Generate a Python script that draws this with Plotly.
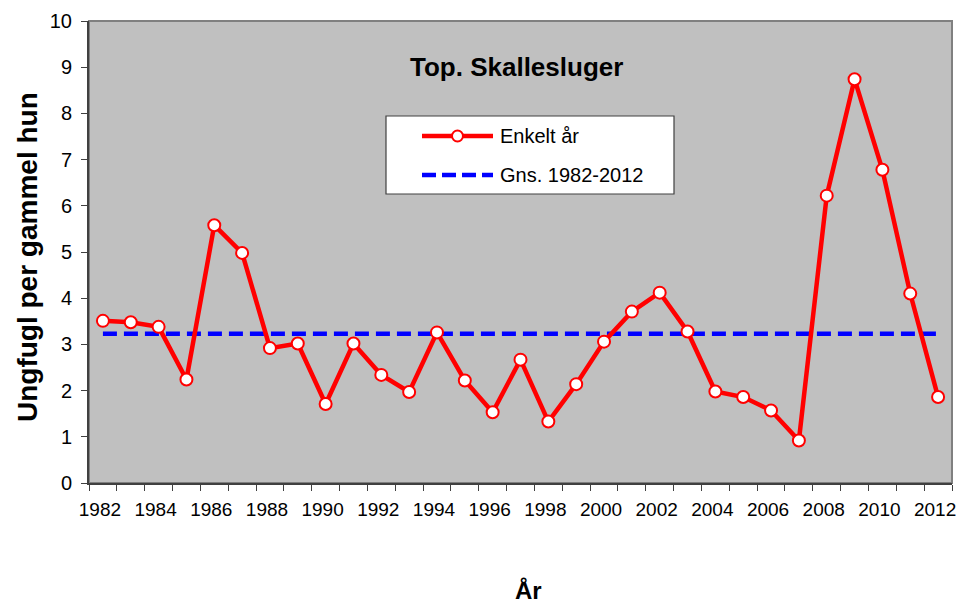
import plotly.graph_objects as go

years = list(range(1982, 2013))
values = [3.51, 3.48, 3.38, 2.24, 5.58, 4.98, 2.92, 3.02, 1.71, 3.02,
          2.34, 1.97, 3.26, 2.22, 1.53, 2.67, 1.33, 2.14, 3.06, 3.71,
          4.12, 3.28, 1.98, 1.86, 1.57, 0.92, 6.22, 8.74, 6.78, 4.10, 1.86]
mean_value = 3.23
mean_line = [mean_value] * len(years)
tick_years = list(range(1982, 2013, 2))
tick_labels = [str(y) for y in tick_years]
boundaries = [y - 0.5 for y in range(1982, 2014)]

W, H = 958, 605
ML, MR, MT, MB = 89, 6, 21, 122
PW, PH = W - ML - MR, H - MT - MB


def px(x):
    return (x - ML) / PW


def py(y):
    return (H - MB - y) / PH


FONT = "Arial, Liberation Sans, sans-serif"

fig = go.Figure()
fig.add_trace(go.Scatter(
    x=years, y=mean_line, mode="lines", name="Gns. 1982-2012",
    line=dict(color="#0000FF", width=4.5, dash="14px,7px"),
    showlegend=False))
fig.add_trace(go.Scatter(
    x=years, y=values, mode="lines+markers", name="Enkelt år",
    line=dict(color="#FF0000", width=4.5),
    marker=dict(symbol="circle", size=12, color="white",
                line=dict(color="#FF0000", width=2)),
    showlegend=False))

shapes = [
    # plot frame
    dict(type="rect", xref="paper", yref="paper", x0=0, x1=1, y0=0, y1=1,
         line=dict(color="#808080", width=2), layer="below"),
    # legend box
    dict(type="rect", xref="paper", yref="paper", x0=px(386), x1=px(674),
         y0=py(194), y1=py(116), fillcolor="white",
         line=dict(color="#404040", width=1.2), layer="above"),
    dict(type="line", xref="paper", yref="paper", x0=px(422), x1=px(493),
         y0=py(136), y1=py(136), line=dict(color="#FF0000", width=4.5)),
    dict(type="circle", xref="paper", yref="paper", x0=px(452), x1=px(463),
         y0=py(141.5), y1=py(130.5), fillcolor="white",
         line=dict(color="#FF0000", width=2)),
    dict(type="line", xref="paper", yref="paper", x0=px(422), x1=px(493),
         y0=py(175), y1=py(175),
         line=dict(color="#0000FF", width=4.5, dash="14px,6px")),
]

annotations = [
    dict(text="<b>Top. Skallesluger</b>", xref="paper", yref="paper",
         x=px(516), y=py(67), xanchor="center", yanchor="middle",
         showarrow=False, font=dict(size=26, color="black", family=FONT)),
    dict(text="Enkelt år", xref="paper", yref="paper",
         x=px(498), y=py(136), xanchor="left", yanchor="middle",
         showarrow=False, font=dict(size=20, color="black", family=FONT)),
    dict(text="Gns. 1982-2012", xref="paper", yref="paper",
         x=px(498), y=py(175), xanchor="left", yanchor="middle",
         showarrow=False, font=dict(size=20, color="black", family=FONT)),
    dict(text="<b>Ungfugl per gammel hun</b>", xref="paper", yref="paper",
         x=px(27), y=py(257), xanchor="center", yanchor="middle",
         textangle=-90, showarrow=False,
         font=dict(size=28, color="black", family=FONT)),
    dict(text="<b>År</b>", xref="paper", yref="paper",
         x=px(528), y=py(590), xanchor="center", yanchor="middle",
         showarrow=False, font=dict(size=24, color="black", family=FONT)),
]

fig.update_layout(
    width=W, height=H,
    margin=dict(l=ML, r=MR, t=MT, b=MB, autoexpand=False),
    paper_bgcolor="white", plot_bgcolor="#C0C0C0",
    font=dict(family=FONT, size=20, color="black"),
    showlegend=False,
    shapes=shapes, annotations=annotations,
    xaxis=dict(range=[1981.5, 2012.5], tickmode="array",
               tickvals=tick_years, ticktext=tick_labels,
               ticks="outside", ticklen=6, tickcolor="rgba(0,0,0,0)",
               ticklabeloverflow="allow", ticklabelstandoff=2,
               ticklabelshift=-3,
               automargin=False,
               showgrid=False, zeroline=False,
               showline=True, linecolor="#404040", linewidth=2,
               minor=dict(tickmode="array", tickvals=boundaries,
                          ticks="outside", ticklen=6, tickcolor="#404040",
                          tickwidth=1, showgrid=False),
               tickfont=dict(size=19, color="black", family=FONT)),
    yaxis=dict(range=[0, 10], tickmode="linear", tick0=0, dtick=1,
               ticks="outside", ticklen=6, tickcolor="#404040", tickwidth=1,
               ticklabelstandoff=5, ticklabeloverflow="allow",
               automargin=False,
               showgrid=False, zeroline=False,
               showline=True, linecolor="#404040", linewidth=2,
               tickfont=dict(size=20, color="black", family=FONT)),
)

fig.write_html(
    "out.html",
    config={"displayModeBar": False},
    post_script="document.body.style.margin='0';document.body.style.overflow='hidden';window.dispatchEvent(new Event('resize'));",
)
